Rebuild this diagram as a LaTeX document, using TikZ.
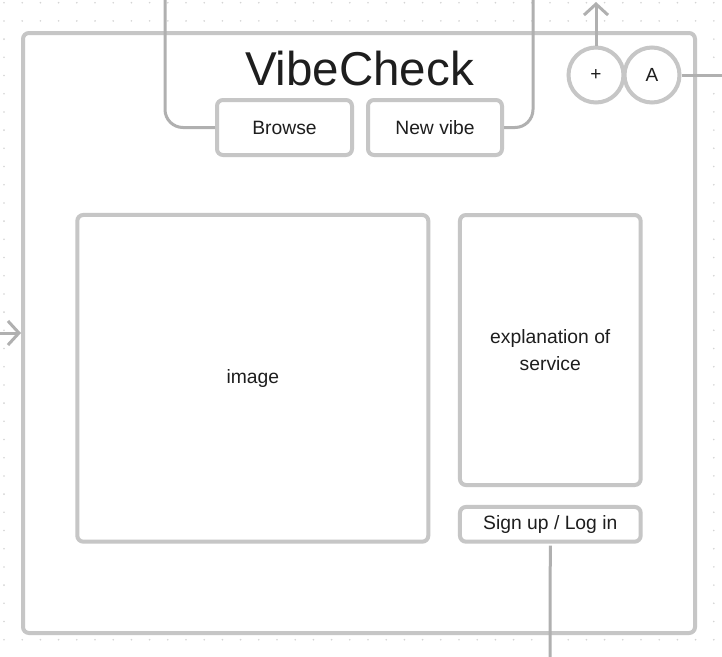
\documentclass[tikz,border=0pt]{standalone}
\usepackage{fontspec}
\setmainfont{Liberation Sans}
\usetikzlibrary{arrows.meta}
\definecolor{boxgray}{HTML}{C6C6C6}
\definecolor{linegray}{HTML}{B0B0B0}
\definecolor{dotgray}{HTML}{D4D4D4}
\definecolor{txt}{HTML}{1E1E1E}
\tikzset{
  panel/.style={draw=boxgray, line width=4pt, fill=white, rounded corners=6pt, inner sep=0pt, text=txt, font=\fontsize{19.3}{27}\selectfont, align=center},
  roundbtn/.style={draw=boxgray, line width=4pt, fill=white, circle, minimum size=55pt, inner sep=0pt, text=txt},
  conn/.style={draw=linegray, line width=3pt},
  chev/.style={-{Straight Barb[length=11pt,width=24pt]}},
}
\begin{document}
\begin{tikzpicture}[x=1pt,y=-1pt]
\useasboundingbox (0,0) rectangle (722,656);
\fill[white] (0,0) rectangle (722,656);
% dotted grid
\foreach \i in {0,...,39}{
  \foreach \j in {0,...,35}{
    \fill[dotgray] ({4+18.2*\i},{2.7+18.2*\j}) circle (0.9pt);
  }
}
% main frame
\node[panel, minimum width=672pt, minimum height=600pt] (frame) at (359,333) {};
\node[text=txt, font=\fontsize{47.5}{50}\selectfont, anchor=base] (title) at (359.5,85) {VibeCheck};
\node[panel, minimum width=135pt, minimum height=55pt] (browse) at (284.5,127.5) {Browse};
\node[panel, minimum width=134pt, minimum height=55pt] (newvibe) at (435,127.5) {New vibe};
\node[roundbtn, font=\fontsize{19}{20}\selectfont] (plus) at (596,75) {+};
\node[roundbtn, font=\fontsize{19}{20}\selectfont] (acct) at (652,75) {A};
\node[panel, minimum width=351pt, minimum height=326.7pt] (image) at (252.8,378.3) {image};
\node[panel, minimum width=180.7pt, minimum height=270pt] (expl) at (550.3,350) {explanation of\\service};
\node[panel, minimum width=180.7pt, minimum height=34.7pt] (signup) at (550.3,524.3) {Sign up / Log in};
% free ends
\coordinate (browseTop) at (165,-3);
\coordinate (newvibeTop) at (533,-3);
\coordinate (plusTop) at (596,2);
\coordinate (acctRight) at (725,75);
\coordinate (leftIn) at (-3,333);
\coordinate (signupDown) at (550,659);
% connectors
\draw[conn, rounded corners=18pt] (browse.west) -| (browseTop);
\draw[conn, rounded corners=18pt] (newvibe.east) -| (newvibeTop);
\draw[conn, chev] (plus.north) -- (plusTop);
\draw[conn] (acct.east) -- (acctRight);
\draw[conn, chev] (leftIn) -- (frame.west);
\draw[conn, shorten <=2pt] (signup.south) -- (signupDown);
\end{tikzpicture}
\end{document}
